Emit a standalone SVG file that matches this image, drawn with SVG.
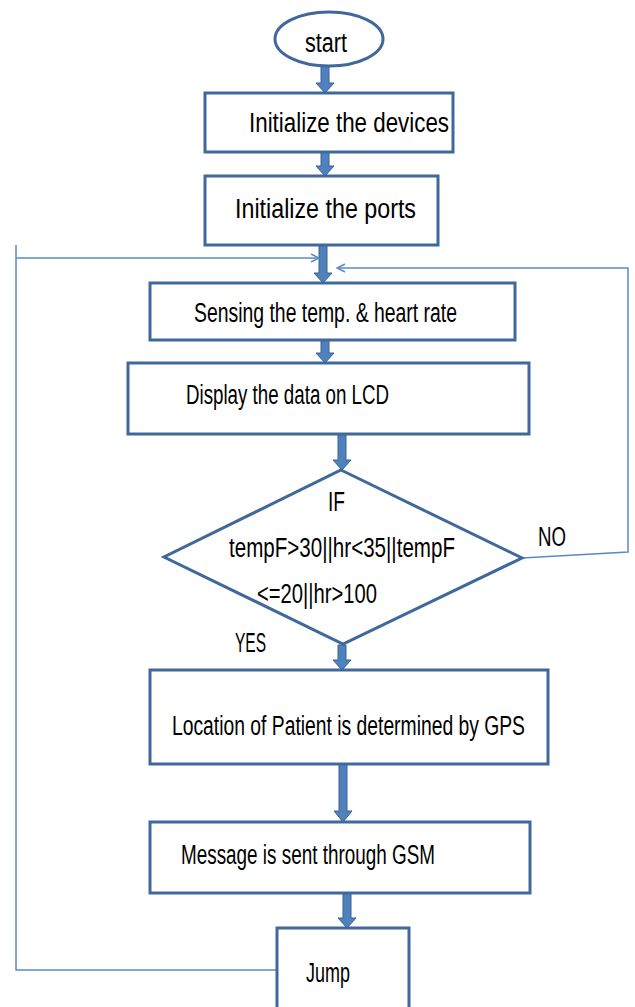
<svg xmlns="http://www.w3.org/2000/svg" width="635" height="1007" viewBox="0 0 635 1007">
<style>
.box{fill:#fff;stroke:#41689a;stroke-width:3}
.t{font-family:"Liberation Sans",Arial,sans-serif;font-size:27px;fill:#000}
.arr{fill:#4f81bd;stroke:#3a6394;stroke-width:1}
.loop{fill:none;stroke:#5b89c4;stroke-width:1.5}
</style>
<defs>
<marker id="open" viewBox="0 0 10 10" refX="9" refY="5" markerWidth="10" markerHeight="10" markerUnits="userSpaceOnUse" orient="auto">
<path d="M1,1 L9,5 L1,9" fill="none" stroke="#5b89c4" stroke-width="1.5"/>
</marker>
</defs>
<rect width="635" height="1007" fill="#fff"/>
<g id="connectors">
<path class="arr" d="M321,66 H329 V83 H334 L325,93 L316,83 H321 Z"/>
<path class="arr" d="M321,152 H329 V166 H334 L325,176 L316,166 H321 Z"/>
<path class="arr" d="M319,245 H327 V273 H332 L323,283 L314,273 H319 Z"/>
<path class="arr" d="M321,340 H329 V353 H334 L325,363 L316,353 H321 Z"/>
<path class="arr" d="M338,434 H346 V460 H351 L342,470 L333,460 H338 Z"/>
<path class="arr" d="M338,645 H346 V660 H351 L342,670 L333,660 H338 Z"/>
<path class="arr" d="M339,764 H347 V811 H352 L343,822 L334,811 H339 Z"/>
<path class="arr" d="M343,893 H351 V918 H356 L347,928 L338,918 H343 Z"/>
<polyline class="loop" points="16,245 16,970 277,970"/>
<line class="loop" x1="16" y1="258" x2="319" y2="258" marker-end="url(#open)"/>
<polyline class="loop" points="522,558 628,552 628,268 337,268" marker-end="url(#open)"/>
</g>
<g id="start">
<ellipse cx="329" cy="39" rx="54" ry="27" fill="#fff" stroke="#41689a" stroke-width="3"/>
<text class="t" x="305" y="52" textLength="42" lengthAdjust="spacingAndGlyphs">start</text>
</g>
<g id="init-devices">
<rect class="box" x="205" y="93" width="248" height="59"/>
<text class="t" x="249" y="132" textLength="200" lengthAdjust="spacingAndGlyphs">Initialize the devices</text>
</g>
<g id="init-ports">
<rect class="box" x="205" y="176" width="233" height="69"/>
<text class="t" x="235" y="218" textLength="181" lengthAdjust="spacingAndGlyphs">Initialize the ports</text>
</g>
<g id="sensing">
<rect class="box" x="150" y="283" width="365" height="57"/>
<text class="t" x="194" y="322" textLength="263" lengthAdjust="spacingAndGlyphs">Sensing the temp. &amp; heart rate</text>
</g>
<g id="display">
<rect class="box" x="128" y="363" width="401" height="71"/>
<text class="t" x="186" y="404" textLength="203" lengthAdjust="spacingAndGlyphs">Display the data on LCD</text>
</g>
<g id="decision">
<polygon points="341,470 522,558 343,644 164,557" fill="#fff" stroke="#41689a" stroke-width="3"/>
<text class="t" x="328" y="511" textLength="17" lengthAdjust="spacingAndGlyphs">IF</text>
<text class="t" x="229" y="557" textLength="226" lengthAdjust="spacingAndGlyphs">tempF&gt;30||hr&lt;35||tempF</text>
<text class="t" x="257" y="603" textLength="120" lengthAdjust="spacingAndGlyphs">&lt;=20||hr&gt;100</text>
</g>
<g id="labels">
<text class="t" x="538" y="546" textLength="28" lengthAdjust="spacingAndGlyphs">NO</text>
<text class="t" x="235" y="652" textLength="31" lengthAdjust="spacingAndGlyphs">YES</text>
</g>
<g id="gps">
<rect class="box" x="150" y="670" width="398" height="94"/>
<text class="t" x="172" y="735" textLength="353" lengthAdjust="spacingAndGlyphs">Location of Patient is determined by GPS</text>
</g>
<g id="gsm">
<rect class="box" x="150" y="822" width="380" height="71"/>
<text class="t" x="181" y="864" textLength="254" lengthAdjust="spacingAndGlyphs">Message is sent through GSM</text>
</g>
<g id="jump">
<rect class="box" x="277" y="928" width="132" height="100"/>
<text class="t" x="306" y="982" textLength="44" lengthAdjust="spacingAndGlyphs">Jump</text>
</g>
</svg>
